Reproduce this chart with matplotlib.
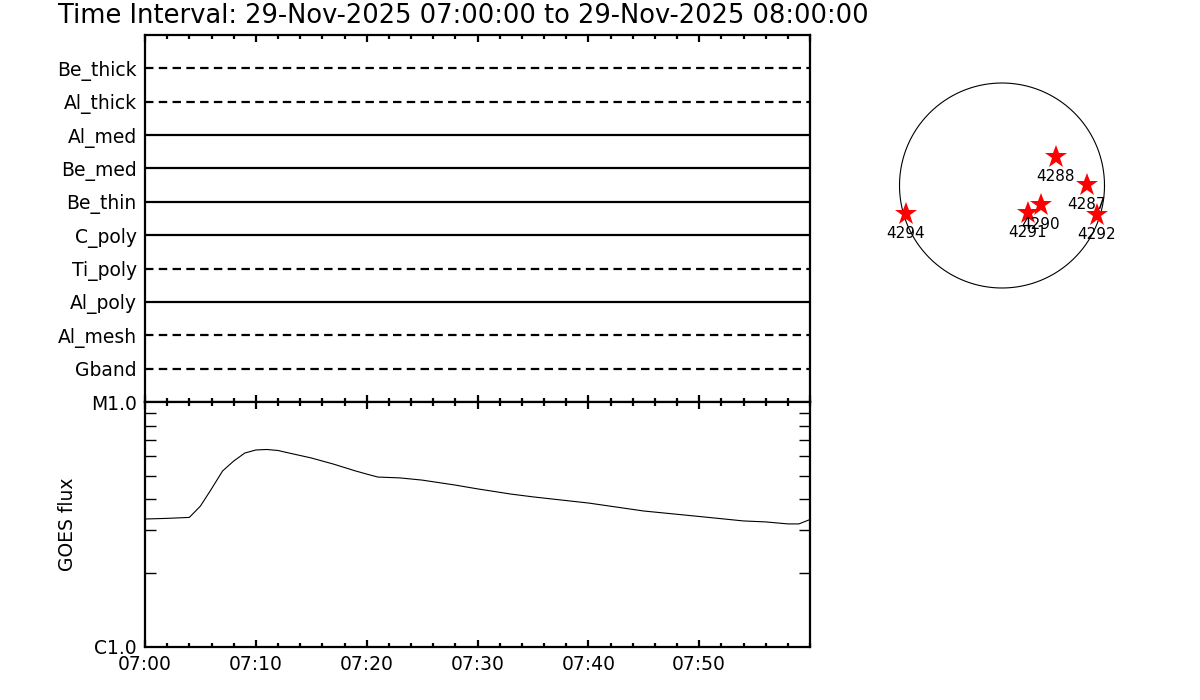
import matplotlib.pyplot as plt
import matplotlib.ticker as mticker
import numpy as np

# filter channels of the top panel (top to bottom) and their line style
channels = ["Be_thick", "Al_thick", "Al_med", "Be_med", "Be_thin",
            "C_poly", "Ti_poly", "Al_poly", "Al_mesh", "Gband"]
dashed = [True, True, False, False, False, False, True, False, True, True]

# GOES flux curve, minutes after 07:00 and flux (W/m^2)
goes_min = [0.0, 2.0, 4.0, 5.0, 6.0, 7.0, 8.0, 9.0, 10.0, 11.0, 12.0, 13.0,
            15.0, 17.0, 19.0, 20.0, 21.0, 23.0, 25.0, 28.0, 30.0, 33.0, 35.0,
            40.0, 45.0, 50.0, 54.0, 56.0, 58.0, 59.0, 59.9]
goes_flux = [3.33e-6, 3.35e-6, 3.38e-6, 3.76e-6, 4.42e-6, 5.23e-6, 5.74e-6,
             6.19e-6, 6.37e-6, 6.40e-6, 6.34e-6, 6.19e-6, 5.91e-6, 5.58e-6,
             5.23e-6, 5.08e-6, 4.94e-6, 4.90e-6, 4.80e-6, 4.58e-6, 4.42e-6,
             4.21e-6, 4.10e-6, 3.87e-6, 3.59e-6, 3.41e-6, 3.27e-6, 3.24e-6,
             3.18e-6, 3.18e-6, 3.30e-6]

# active regions on the disk (arcsec)
ar_num = ["4294", "4291", "4290", "4288", "4287", "4292"]
ar_x = [-908, 246, 369, 511, 804, 899]
ar_y = [-270, -260, -185, 270, 5, -279]
r_sun = 970

time_labels = ["07:00", "07:10", "07:20", "07:30", "07:40", "07:50"]

plt.rcParams["font.family"] = "DejaVu Sans"
lw = 1.6

fig = plt.figure(figsize=(12, 7), dpi=100)


def px_axes(x0, y0, x1, y1):
    # axes from pixel box (top-left origin)
    return fig.add_axes([x0 / 1200, 1 - y1 / 700, (x1 - x0) / 1200, (y1 - y0) / 700])


ax1 = px_axes(145, 35, 810, 402)
ax2 = px_axes(145, 402, 810, 647)

# top panel: one line per channel
n = len(channels)
levels = np.arange(n, 0, -1)
for name, lev, d in zip(channels, levels, dashed):
    ls = (0, (3.8, 2.4)) if d else "-"
    ax1.plot([0, 60], [lev, lev], color="black", lw=lw, linestyle=ls)
ax1.set_ylim(0, n + 1)
ax1.set_yticks(levels)
ax1.set_yticklabels(channels, fontsize=13.5)
ax1.tick_params(axis="y", length=0, pad=6)

# bottom panel: GOES flux
ax2.plot(goes_min, goes_flux, color="black", lw=0.8)
ax2.set_yscale("log")
ax2.set_ylim(1e-6, 1e-5)
ax2.set_yticks([1e-6, 1e-5])
ax2.set_yticklabels(["C1.0", "M1.0"], fontsize=13.5)
ax2.yaxis.set_minor_locator(mticker.LogLocator(base=10, subs=np.arange(2, 10)))
ax2.yaxis.set_minor_formatter(mticker.NullFormatter())
ax2.tick_params(axis="y", which="both", direction="in", left=True, right=True,
                width=1, pad=6)
ax2.tick_params(axis="y", which="minor", length=8)
ax2.tick_params(axis="y", which="major", length=0)
ax2.set_ylabel("GOES flux", fontsize=13.5, labelpad=10)

for ax in (ax1, ax2):
    ax.set_xlim(0, 60)
    ax.xaxis.set_major_locator(mticker.MultipleLocator(10))
    ax.xaxis.set_minor_locator(mticker.MultipleLocator(2))
    ax.tick_params(axis="x", which="both", direction="in", top=True,
                   bottom=True, width=lw)
    ax.tick_params(axis="x", which="major", length=5)
    ax.tick_params(axis="x", which="minor", length=3)
    for sp in ax.spines.values():
        sp.set_linewidth(lw)

ax1.set_xticklabels([])
ax2.set_xticks(np.arange(0, 60, 10))
ax2.set_xticklabels(time_labels, fontsize=13.5)
ax2.tick_params(axis="x", which="major", pad=6)

# solar disk with active regions
axd = px_axes(892, 75.5, 1112, 295.5)
lim = 110 / 102.5 * r_sun
th = np.linspace(0, 2 * np.pi, 400)
axd.plot(r_sun * np.cos(th), r_sun * np.sin(th), color="black", lw=0.8)
axd.plot(ar_x, ar_y, linestyle="none", marker="*", color="red", ms=17,
         markeredgewidth=0)
for num, x, y in zip(ar_num, ar_x, ar_y):
    axd.text(x, y - 110, num, fontsize=11, ha="center", va="top", clip_on=False)
axd.set_xlim(-lim, lim)
axd.set_ylim(-lim, lim)
axd.axis("off")

fig.text(58 / 1200, 1 - 3 / 700,
         "Time Interval: 29-Nov-2025 07:00:00 to 29-Nov-2025 08:00:00",
         fontsize=18.5, ha="left", va="top")

fig.savefig("out.png", dpi=100)
